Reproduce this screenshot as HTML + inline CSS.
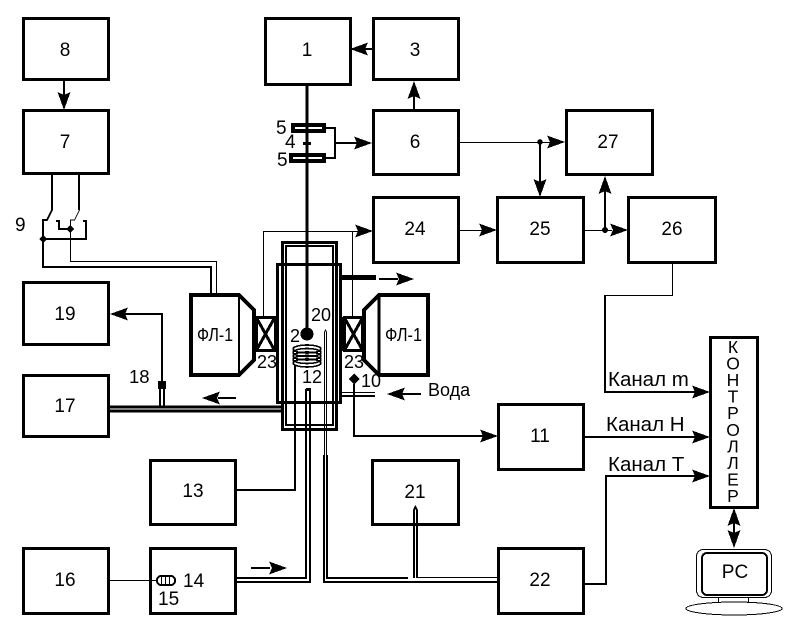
<!DOCTYPE html>
<html><head><meta charset="utf-8"><style>
html,body{margin:0;padding:0;background:#fff}
svg{display:block;shape-rendering:crispEdges}
text{font-family:"Liberation Sans",sans-serif;fill:#000;stroke:none}
.b{fill:#fff;stroke:#000;stroke-width:3}
.t{fill:none;stroke:#000;stroke-width:1}
.m{fill:none;stroke:#000;stroke-width:2}
.h{fill:none;stroke:#000;stroke-width:3}
</style></head><body>
<svg width="804" height="629" viewBox="0 0 804 629" xmlns="http://www.w3.org/2000/svg">
<defs>
<g id="ar"><path d="M-18,-6.5 L0,0 L-18,6.5 L-15,0 Z" fill="#000"/></g>
</defs>
<!-- boxes -->
<rect class="b" x="23.5" y="18.5" width="85" height="61"/>
<rect class="b" x="23.5" y="110.5" width="85" height="63"/>
<rect class="b" x="23.5" y="282.5" width="85" height="62"/>
<rect class="b" x="23.5" y="375.5" width="85" height="61"/>
<rect class="b" x="265.5" y="18.5" width="85" height="66"/>
<rect class="b" x="373.5" y="18.5" width="85" height="61"/>
<rect class="b" x="373.5" y="110.5" width="85" height="64"/>
<rect class="b" x="373.5" y="197.5" width="85" height="65"/>
<rect class="b" x="566.5" y="110.5" width="86" height="64"/>
<rect class="b" x="497.5" y="197.5" width="86" height="65"/>
<rect class="b" x="628.5" y="197.5" width="87" height="65"/>
<rect class="b" x="498.5" y="404.5" width="85" height="65"/>
<rect class="b" x="372.5" y="460.5" width="86" height="64"/>
<rect class="b" x="498.5" y="548.5" width="85" height="65"/>
<rect class="b" x="150.5" y="460.5" width="85" height="64"/>
<rect class="b" x="150.5" y="548.5" width="85" height="65"/>
<rect class="b" x="23.5" y="548.5" width="85" height="65"/>
<rect class="b" x="710.5" y="337.5" width="47" height="170"/>

<!-- box labels -->
<g font-size="19" text-anchor="middle">
<text x="65" y="56">8</text><text x="65" y="148">7</text><text x="65" y="320">19</text><text x="65" y="412">17</text>
<text x="307" y="56">1</text><text x="415" y="56">3</text><text x="415" y="148">6</text><text x="415" y="235">24</text>
<text x="608" y="148">27</text><text x="540" y="235">25</text><text x="672" y="235">26</text><text x="540" y="442">11</text>
<text x="415" y="498">21</text><text x="540" y="586">22</text><text x="193" y="497">13</text><text x="65" y="586">16</text>
</g>

<!-- top connections -->
<line class="m" x1="64" y1="80" x2="64" y2="95"/><use href="#ar" transform="translate(64,110) rotate(90)"/>
<line class="m" x1="373" y1="49" x2="360" y2="49"/><use href="#ar" transform="translate(350,49) rotate(180)"/>
<line class="m" x1="414" y1="109" x2="414" y2="95"/><use href="#ar" transform="translate(414,81) rotate(-90)"/>
<line x1="307" y1="85" x2="307" y2="333" stroke="#000" stroke-width="3"/>

<!-- sensors 5,4 -->
<rect x="293" y="125" width="31" height="6" fill="#fff" stroke="#000" stroke-width="4"/>
<rect x="291" y="155" width="33" height="6" fill="#fff" stroke="#000" stroke-width="4"/>
<line x1="307" y1="122" x2="307" y2="164" stroke="#000" stroke-width="3"/>
<rect x="303" y="142" width="8" height="3" fill="#000"/>
<path class="m" d="M326,128 H335 V158 H326 M335,143 H358"/>
<use href="#ar" transform="translate(372,143)"/>
<g font-size="19"><text x="276" y="134">5</text><text x="285" y="148">4</text><text x="277" y="166">5</text></g>

<!-- 6 to 27/25 -->
<line class="t" x1="459" y1="142.5" x2="550" y2="142.5"/>
<use href="#ar" transform="translate(565,142)"/>
<circle cx="540" cy="142" r="2.8"/>
<line class="m" x1="540" y1="142" x2="540" y2="182"/><use href="#ar" transform="translate(540,197) rotate(90)"/>
<line class="t" x1="459" y1="230.5" x2="484" y2="230.5"/><use href="#ar" transform="translate(497,230)"/>
<line class="t" x1="584" y1="230.5" x2="612" y2="230.5"/><use href="#ar" transform="translate(628,230)"/>
<circle cx="605" cy="230" r="3"/>
<line class="m" x1="605" y1="230" x2="605" y2="190"/><use href="#ar" transform="translate(605,176) rotate(-90)"/>
<path class="t" d="M672.5,263 V295.5 H606"/>
<path class="m" d="M605,295 V392 H695"/>
<use href="#ar" transform="translate(710,392)"/>
<line class="m" x1="584" y1="437" x2="695" y2="437"/><use href="#ar" transform="translate(710,437)"/>
<path class="m" d="M584,584 H606 V476 H695"/><use href="#ar" transform="translate(710,476)"/>
<g font-size="20.5">
<text x="608" y="386">Канал m</text><text x="606" y="431">Канал Н</text><text x="608" y="471">Канал Т</text>
</g>
<g font-size="17.5" text-anchor="middle">
<text x="733" y="353">К</text><text x="733" y="369.5">О</text><text x="733" y="386">Н</text><text x="733" y="402.5">Т</text><text x="733" y="419">Р</text><text x="733" y="436">О</text><text x="733" y="452.5">Л</text><text x="733" y="469">Л</text><text x="733" y="485.5">Е</text><text x="733" y="502">Р</text>
</g>
<!-- controller-PC -->
<line class="m" x1="734" y1="515" x2="734" y2="540"/>
<use href="#ar" transform="translate(734,508) rotate(-90)"/>
<use href="#ar" transform="translate(734,548) rotate(90)"/>
<rect x="696.5" y="549.5" width="75" height="48" rx="7" fill="#fff" stroke="#000" stroke-width="1"/>
<rect x="702" y="553" width="65" height="42" rx="5" fill="#fff" stroke="#000" stroke-width="2"/>
<path class="t" d="M718.5,598 V603 H748.5 V598"/>
<ellipse cx="734" cy="608.5" rx="48" ry="6.5" fill="#fff" stroke="#000" stroke-width="1"/>
<text x="735" y="578" font-size="19" text-anchor="middle">PC</text>

<!-- switch 9 -->
<path class="m" d="M52,175 V210 L47,220 H43 V267 H211 V296"/>
<path class="t" d="M79.5,175 V210 L74.5,220 H70.5 V261.5 H216.5 V295" stroke-width="1"/>
<line class="m" x1="79" y1="175" x2="79" y2="210"/>
<path class="m" d="M43,239 H86 V221 H83"/>
<path class="m" d="M70,229 H59 V221 H56"/>
<path d="M43,235 L47,239 L43,243 L39,239 Z M70,225 L74,229 L70,233 L66,229 Z" fill="#000"/>
<text x="15" y="231" font-size="19">9</text>

<!-- left FL -->
<path d="M191,295 H239 L254,310 V360 L239,375 H191 Z" fill="#fff" stroke="#000" stroke-width="4"/>
<line x1="239" y1="295" x2="239" y2="375" stroke="#000" stroke-width="2"/>
<text x="197" y="341" font-size="18" textLength="36" lengthAdjust="spacingAndGlyphs">ФЛ-1</text>
<rect x="256.5" y="317.5" width="19" height="33" fill="#fff" stroke="#000" stroke-width="3"/>
<path d="M256,317 L275,351 M275,317 L256,351" stroke="#000" stroke-width="3"/>
<rect x="275" y="317" width="4" height="34" fill="#000"/>
<text x="257" y="368" font-size="18">23</text>

<!-- right FL -->
<path d="M428,295 H379 L364,310 V360 L379,375 H428 Z" fill="#fff" stroke="#000" stroke-width="4"/>
<text x="385" y="341" font-size="18" textLength="37" lengthAdjust="spacingAndGlyphs">ФЛ-1</text>
<line x1="379" y1="295" x2="379" y2="375" stroke="#000" stroke-width="3"/>
<rect x="344.5" y="317.5" width="18" height="33" fill="#fff" stroke="#000" stroke-width="3"/>
<path d="M344,317 L363,351 M363,317 L344,351" stroke="#000" stroke-width="3"/>
<rect x="341" y="317" width="4" height="34" fill="#000"/>
<text x="344" y="368" font-size="18">23</text>

<!-- central chamber -->
<rect x="282.5" y="242.5" width="54" height="187" fill="none" stroke="#000" stroke-width="3"/>
<rect x="286" y="246" width="47" height="179" fill="none" stroke="#000" stroke-width="2"/>
<rect x="277.5" y="264.5" width="63" height="138" fill="none" stroke="#000" stroke-width="3"/>
<line x1="307" y1="220" x2="307" y2="333" stroke="#000" stroke-width="3"/>
<circle cx="307" cy="334" r="6.5"/>
<text x="290" y="342" font-size="18">2</text>
<text x="311" y="321" font-size="18">20</text>
<g fill="none" stroke="#000" stroke-width="1.6">
<ellipse cx="307" cy="349" rx="14" ry="4"/><ellipse cx="307" cy="352.5" rx="14" ry="4"/><ellipse cx="307" cy="356" rx="14" ry="4"/><ellipse cx="307" cy="359.5" rx="14" ry="4"/><ellipse cx="307" cy="363" rx="14" ry="4"/>
</g>
<text x="302" y="383" font-size="18">12</text>
<!-- 20 tube -->
<path class="t" d="M324.5,455 V332 L325.5,330 L326.5,332 V455"/>
<!-- coil wires -->
<line x1="295" y1="365" x2="295" y2="490" stroke="#000" stroke-width="2"/>
<path class="m" d="M236,490 H296"/>
<!-- 12 thermocouple -->
<path class="m" d="M306,389 V578 H236"/>
<path class="m" d="M310,389 V582 H236"/>
<rect x="306" y="388" width="5" height="3" fill="#000"/>
<!-- to 22 -->
<path class="m" d="M324,455 V582 H498"/>
<path class="m" d="M327,455 V578 H408"/>
<path class="t" d="M418,577.5 H498"/>
<path class="m" d="M414,578 V510 L415.5,507 L417,510 V578" stroke-width="1.5"/>

<!-- signal from 24 to X -->
<path class="t" d="M263.5,317 V231.5 H358"/>
<use href="#ar" transform="translate(373,231)"/>
<line class="t" x1="352.5" y1="231" x2="352.5" y2="317"/>
<!-- outlet -->
<rect x="340" y="275" width="36" height="5" fill="#000"/>
<line class="m" x1="379" y1="279" x2="398" y2="279"/><use href="#ar" transform="translate(414,279)"/>
<!-- water -->
<path class="t" d="M340,392.5 H375"/>
<path class="m" d="M340,396 H375"/>
<line class="m" x1="421" y1="394" x2="400" y2="394"/><use href="#ar" transform="translate(387,394) rotate(180)"/>
<text x="428" y="396" font-size="18">Вода</text>
<!-- sensor 10 -->
<path d="M354,373.5 L359.5,379 L354,384.5 L348.5,379 Z" fill="#000"/>
<text x="361" y="387" font-size="18">10</text>
<path class="m" d="M354,384 V436 H484"/><use href="#ar" transform="translate(498,436)"/>

<!-- left pipe 17 -->
<path class="h" d="M109,407 H282" stroke-width="2"/>
<path class="h" d="M109,411 H282" stroke-width="2"/>
<line class="m" x1="236" y1="398" x2="218" y2="398"/><use href="#ar" transform="translate(202,398) rotate(180)"/>
<path class="m" d="M160,407 V385"/><path class="m" d="M164,407 V385"/>
<rect x="158" y="381" width="8" height="8" fill="#000"/>
<path class="m" d="M162,382 V314 H125"/><use href="#ar" transform="translate(110,314) rotate(180)"/>
<text x="129" y="383" font-size="18.5">18</text>

<!-- 14/15/16 -->
<line class="t" x1="109" y1="580.5" x2="157" y2="580.5"/>
<rect x="157" y="576" width="18" height="9" rx="4" fill="#fff" stroke="#000" stroke-width="2"/>
<path d="M161.5,576 V585 M165.5,576 V585 M169.5,576 V585" stroke="#000" stroke-width="1"/>
<text x="183" y="587" font-size="19">14</text>
<text x="158" y="605" font-size="19">15</text>
<line class="m" x1="251" y1="568" x2="270" y2="568"/><use href="#ar" transform="translate(287,568)"/>
</svg>
</body></html>
